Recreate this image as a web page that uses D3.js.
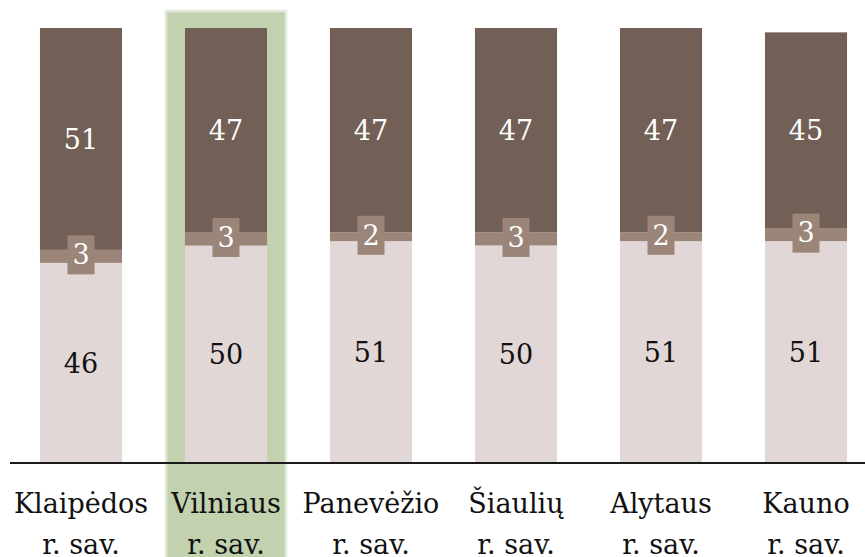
<!DOCTYPE html>
<html><head><meta charset="utf-8">
<script src="https://cdn.jsdelivr.net/npm/d3@7"></script>
<style>body{margin:0;background:#fff}svg{display:block}</style>
</head><body>
<svg id="chart" width="865" height="557"></svg>
<script>
const categories = ["Klaipėdos r. sav.", "Vilniaus r. sav.", "Panevėžio r. sav.", "Šiaulių r. sav.", "Alytaus r. sav.", "Kauno r. sav."];
const bottomValues = [46, 50, 51, 50, 51, 51];
const middleValues = [3, 3, 2, 3, 2, 3];
const topValues = [51, 47, 47, 47, 47, 45];
const highlighted = "Vilniaus r. sav.";

const colors = {bottom: "#e1d7d7", middle: "#9b8478", top: "#726057", hl: "#c3d2ae", hlEdge: "#e3eadb"};
const font = "'DejaVu Serif', serif";

const svg = d3.select("#chart");
const W = 865, H = 557;
const x = d3.scaleBand().domain(categories).range([8.5, 878.5]).paddingInner(0.434).paddingOuter(0.217);
const y = d3.scaleLinear().domain([0, 100]).range([463, 28]);

const rows = categories.map((c, i) => ({cat: c, bottom: bottomValues[i], middle: middleValues[i], top: topValues[i]}));
const stack = d3.stack().keys(["bottom", "middle", "top"])(rows);

// highlight
const hx = x(highlighted) + x.bandwidth() / 2;
svg.append("rect").attr("x", hx - 60).attr("y", 11).attr("width", 120).attr("height", H - 11 + 5)
  .attr("fill", colors.hl).attr("stroke", colors.hlEdge).attr("stroke-width", 2.5);

const g = svg.append("g");
g.selectAll("g.layer").data(stack).join("g").attr("class", "layer")
  .attr("fill", d => colors[d.key])
  .selectAll("rect").data(d => d).join("rect")
  .attr("x", d => x(d.data.cat)).attr("width", x.bandwidth())
  .attr("y", d => y(d[1])).attr("height", d => y(d[0]) - y(d[1]));

// labels
stack.forEach(layer => {
  layer.forEach(d => {
    const cx = x(d.data.cat) + x.bandwidth() / 2;
    const cy = (y(d[0]) + y(d[1])) / 2;
    const v = d[1] - d[0];
    if (layer.key === "middle") {
      g.append("rect").attr("x", cx - 13.5).attr("y", cy - 21).attr("width", 27).attr("height", 39).attr("fill", colors.middle);
    }
    g.append("text").attr("x", cx).attr("y", cy - (layer.key === "middle" ? 2 : 0)).attr("dy", "0.36em")
      .attr("text-anchor", "middle").attr("font-family", font).attr("font-size", 27)
      .attr("fill", layer.key === "bottom" ? "#111" : "#fff").text(v);
  });
});

// axis
const axis = d3.axisBottom(x).tickSize(0).tickPadding(0).tickFormat("");
const ag = svg.append("g").attr("transform", `translate(0,${y(0)})`).call(axis);
ag.select(".domain").attr("d", `M10,0H865`).attr("stroke", "#1a1a1a").attr("stroke-width", 2);

categories.forEach(c => {
  const cx = x(c) + x.bandwidth() / 2;
  const parts = c.split(" ");
  const l1 = parts[0], l2 = parts.slice(1).join(" ");
  const t = svg.append("text").attr("text-anchor", "middle").attr("font-family", font).attr("font-size", 27).attr("fill", "#111");
  t.append("tspan").attr("x", cx).attr("y", 513).text(l1);
  t.append("tspan").attr("x", cx).attr("y", 554).text(l2);
});
</script>
</body></html>
